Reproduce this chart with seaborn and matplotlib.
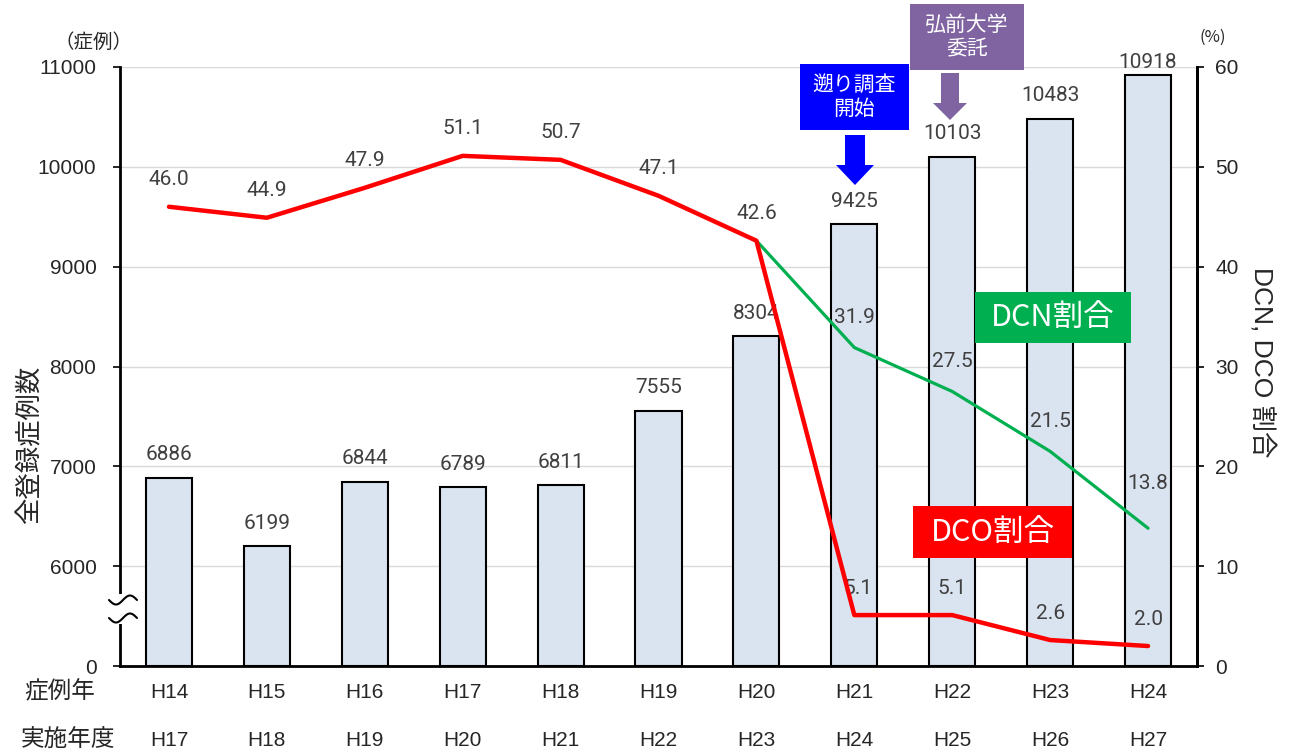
import numpy as np
import pandas as pd
import matplotlib
matplotlib.use("Agg")
import matplotlib.pyplot as plt
import seaborn as sns
from matplotlib.patches import Rectangle, FancyArrow
from matplotlib.transforms import blended_transform_factory

# ---------------- data ----------------
case_years = ["H14", "H15", "H16", "H17", "H18", "H19", "H20", "H21", "H22", "H23", "H24"]
survey_years = ["H17", "H18", "H19", "H20", "H21", "H22", "H23", "H24", "H25", "H26", "H27"]
total_cases = [6886, 6199, 6844, 6789, 6811, 7555, 8304, 9425, 10103, 10483, 10918]
dco_pct = [46.0, 44.9, 47.9, 51.1, 50.7, 47.1, 42.6, 5.1, 5.1, 2.6, 2.0]
dcn_years = ["H20", "H21", "H22", "H23", "H24"]
dcn_pct = [42.6, 31.9, 27.5, 21.5, 13.8]
left_tick_values = [0, 6000, 7000, 8000, 9000, 10000, 11000]
right_tick_values = [0, 10, 20, 30, 40, 50, 60]
BREAK_SHIFT = 5000  # values >= 6000 are drawn shifted down (axis break)

# ---------------- style ----------------
sns.set_theme(style="white")
plt.rcParams["font.family"] = ["Liberation Sans", "Noto Sans CJK JP", "DejaVu Sans"]
NUMFONT = ["Roboto", "Noto Sans CJK JP", "DejaVu Sans"]
JP = ["Noto Sans CJK JP", "DejaVu Sans"]

fig = plt.figure(figsize=(12.89, 7.53), dpi=100)
W, H = 1289, 753
ax = fig.add_axes([120 / W, 1 - 666 / H, (1197 - 120) / W, (666 - 67) / H])

def disp(v):
    return 0 if v == 0 else v - BREAK_SHIFT

df = pd.DataFrame({"year": case_years, "cases": total_cases})
df["shown"] = [disp(v) for v in df["cases"]]
xpos = {y: i for i, y in enumerate(case_years)}

sns.barplot(data=df, x="year", y="shown", order=case_years, color="#DAE3F0",
            saturation=1, edgecolor="black", linewidth=1.5, width=0.47, ax=ax, zorder=2)

ax.set_xlim(-0.5, len(case_years) - 0.5)
ax.set_ylim(0, 6000)
ax.set_yticks([disp(v) for v in left_tick_values])
ax.set_yticklabels([str(v) for v in left_tick_values], fontsize=15)
ax.yaxis.grid(True, color="#D9D9D9", linewidth=1)
ax.set_axisbelow(True)
ax.set_xlabel("")
ax.set_ylabel("")
ax.set_xticks(range(len(case_years)))
ax.set_xticklabels(case_years, fontsize=15)
ax.tick_params(axis="x", length=0, pad=12)
ax.tick_params(axis="y", length=5, width=1.2, color="black", direction="out", pad=12, left=True)
ax.spines["top"].set_visible(False)
for s in ["left", "right", "bottom"]:
    ax.spines[s].set_color("black")
    ax.spines[s].set_linewidth(2)

# bar value labels
for i, v in enumerate(total_cases):
    off = 13 if i == len(total_cases) - 1 else 23
    ax.annotate(str(v), (i, disp(v)), xytext=(0, off * 0.72), textcoords="offset points",
                ha="center", va="center", fontsize=15, color="#404040", family=NUMFONT)

# secondary axis
ax2 = ax.twinx()
ax2.set_ylim(0, 60)
ax2.set_yticks(right_tick_values)
ax2.set_yticklabels([str(v) for v in right_tick_values], fontsize=15)
ax2.tick_params(axis="y", length=5, width=1.2, color="black", direction="out", pad=8, right=True)
for s in ["top", "left", "bottom"]:
    ax2.spines[s].set_visible(False)
ax2.spines["right"].set_color("black")
ax2.spines["right"].set_linewidth(2)

dco_df = pd.DataFrame({"x": [xpos[y] for y in case_years], "pct": dco_pct})
dcn_df = pd.DataFrame({"x": [xpos[y] for y in dcn_years], "pct": dcn_pct})
sns.lineplot(data=dcn_df, x="x", y="pct", color="#00B050", linewidth=2.3, ax=ax2,
             zorder=3, solid_joinstyle="round")
sns.lineplot(data=dco_df, x="x", y="pct", color="#FF0000", linewidth=3.2, ax=ax2,
             zorder=4, solid_joinstyle="round")
ax2.set_xlim(-0.5, len(case_years) - 0.5)
ax2.set_xlabel("")
ax2.set_ylabel("")

for i, v in enumerate(dco_pct):
    ax2.annotate(f"{v:.1f}", (i, v), xytext=(3 if i == 7 else 0, 27 * 0.72),
                 textcoords="offset points", ha="center", va="center",
                 fontsize=15, color="#404040", family=NUMFONT)
for k, (y, v) in enumerate(zip(dcn_years, dcn_pct)):
    if k == 0:
        continue
    off = 45 if k == len(dcn_pct) - 1 else 30
    ax2.annotate(f"{v:.1f}", (xpos[y], v), xytext=(0, off * 0.72),
                 textcoords="offset points", ha="center", va="center",
                 fontsize=15, color="#404040", family=NUMFONT)

# axis titles
fig.text(30 / W, 1 - 445 / H, "全登録症例数", rotation=90, ha="center", va="center",
         fontsize=19, family=JP)
fig.text(1262 / W, 1 - 362 / H, "DCN, DCO 割合", rotation=-90, ha="center", va="center",
         fontsize=19, family=["Liberation Sans", "Noto Sans CJK JP"])
fig.text(93 / W, 1 - 42 / H, "（症例）", ha="center", va="center", fontsize=14, family=JP)
fig.text(1213 / W, 1 - 37 / H, "(%)", ha="center", va="center", fontsize=12, family=JP)

# second row of x labels
trans = blended_transform_factory(ax.transData, fig.transFigure)
for i, s in enumerate(survey_years):
    ax.text(i, 1 - 740 / H, s, transform=trans, ha="center", va="center", fontsize=15)
fig.text(60 / W, 1 - 692 / H, "症例年", ha="center", va="center", fontsize=17, family=JP)
fig.text(68 / W, 1 - 740 / H, "実施年度", ha="center", va="center", fontsize=17, family=JP)

# axis break marker
bx0, bx1 = -11 / 1077, 17 / 1077
ax.add_patch(Rectangle((bx0, (666 - 624) / 599), bx1 - bx0, 30 / 599, transform=ax.transAxes,
                       facecolor="white", edgecolor="none", clip_on=False, zorder=10))
tt = np.linspace(0, 1, 60)
for yc in [(666 - 618) / 599, (666 - 600) / 599]:
    xs = bx0 + (bx1 - bx0) * tt
    ys = yc + (5 / 599) * np.sin(tt * 2 * np.pi + np.pi) * 0.9
    ax.plot(xs, ys, transform=ax.transAxes, color="black", lw=1.5, clip_on=False, zorder=11)

# annotation boxes
def px_to_x(px):
    return (px - 120) / 97.91 - 0.5

def py_to_y(py):
    return (666 - py) / 599 * 6000

def box(x0, x1, y0, y1, color, text, fs, tcolor="white"):
    ax.add_patch(Rectangle((px_to_x(x0), py_to_y(y1)), px_to_x(x1) - px_to_x(x0),
                           py_to_y(y0) - py_to_y(y1), facecolor=color, edgecolor="none",
                           clip_on=False, zorder=12))
    ax.text((px_to_x(x0) + px_to_x(x1)) / 2, (py_to_y(y0) + py_to_y(y1)) / 2, text,
            ha="center", va="center", color=tcolor, fontsize=fs, family=JP,
            linespacing=1.15, zorder=13, clip_on=False)

box(800, 909, 64, 130, "#0000FF", "遡り調査\n開始", 15)
box(910, 1024, 4, 70, "#8064A2", "弘前大学\n委託", 15)
box(975, 1131, 292, 343, "#00B050", "DCN割合", 22)
box(913, 1072, 506, 558, "#FF0000", "DCO割合", 22)

def arrow(cx, top, tip, color, shaft=20, head=38, hl=20):
    x = px_to_x(cx)
    ax.add_patch(FancyArrow(x, py_to_y(top), 0, py_to_y(tip) - py_to_y(top),
                            width=shaft / 97.91, head_width=head / 97.91,
                            head_length=hl / 599 * 6000, length_includes_head=True,
                            facecolor=color, edgecolor="none", clip_on=False, zorder=12))

arrow(855, 135, 185, "#0000FF")
arrow(950, 73, 120, "#8064A2", shaft=18, head=34, hl=17)

fig.savefig("out.png", dpi=100)
